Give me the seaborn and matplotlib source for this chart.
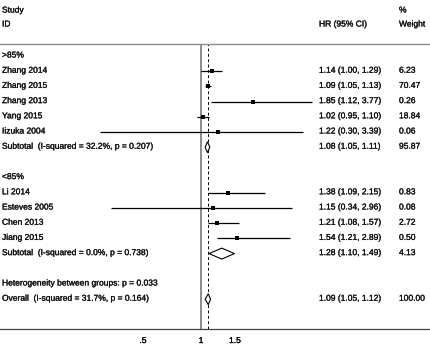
import numpy as np
import pandas as pd
import matplotlib
matplotlib.use("Agg")
import matplotlib.pyplot as plt
import matplotlib.transforms as mtransforms
import matplotlib.patheffects as pe
import seaborn as sns

# studies, hazard ratios, 95% CI and weights
g1_names = ["Zhang 2014", "Zhang 2015", "Zhang 2013", "Yang 2015", "Iizuka 2004"]
g1_hr = [1.14, 1.09, 1.85, 1.02, 1.22]
g1_lo = [1.00, 1.05, 1.12, 0.95, 0.30]
g1_hi = [1.29, 1.13, 3.77, 1.10, 3.39]
g1_w = ["6.23", "70.47", "0.26", "18.84", "0.06"]

g2_names = ["Li 2014", "Esteves 2005", "Chen 2013", "Jiang 2015"]
g2_hr = [1.38, 1.15, 1.21, 1.54]
g2_lo = [1.09, 0.34, 1.08, 1.21]
g2_hi = [2.15, 2.96, 1.57, 2.89]
g2_w = ["0.83", "0.08", "2.72", "0.50"]

sub_labels = ["Subtotal  (I-squared = 32.2%, p = 0.207)",
              "Subtotal  (I-squared = 0.0%, p = 0.738)",
              "Overall  (I-squared = 31.7%, p = 0.164)"]
sub_hr = [1.08, 1.28, 1.09]
sub_lo = [1.05, 1.10, 1.05]
sub_hi = [1.11, 1.49, 1.12]
sub_w = ["95.87", "4.13", "100.00"]

group_titles = [">85%", "<85%"]
het_text = "Heterogeneity between groups: p = 0.033"

tick_vals = [0.5, 1, 1.5, 2, 4]
tick_labels = [".5", "1", "1.5", "", ""]

# row layout
g1_rows = [1, 2, 3, 4, 5]
g2_rows = [9, 10, 11, 12]
sub_rows = [6, 13, 16]
title_rows = [0, 8]
het_row = 15

studies = pd.DataFrame({
    "name": g1_names + g2_names,
    "hr": g1_hr + g2_hr,
    "lo": g1_lo + g2_lo,
    "hi": g1_hi + g2_hi,
    "w": g1_w + g2_w,
    "row": g1_rows + g2_rows,
})

sns.set_style("white")
plt.rcParams["font.family"] = ["Liberation Sans", "DejaVu Sans"]

fig = plt.figure(figsize=(4.3, 3.47), dpi=100)
ax = fig.add_axes([0.0, 18 / 347, 1.0, (329 - 44) / 347])

ax.set_xscale("log")
ax.set_xlim(0.0906, 15.4)
ax.set_ylim(17.96, -0.79)

fs = 6.1
txt_col = "#111111"
thick = [pe.withStroke(linewidth=0.2, foreground=txt_col)]

# null line and overall estimate line
ax.axvline(1, color="#8c8c8c", lw=1.4, zorder=1)
ax.axvline(sub_hr[2], color="black", lw=0.7, ls=(0, (3, 2.5)), zorder=1)

# CIs
ax.hlines(studies["row"], studies["lo"], studies["hi"], color="black", lw=0.9, zorder=2)
sns.scatterplot(data=studies, x="hr", y="row", ax=ax, marker="s", s=6,
                color="black", linewidth=0, zorder=3, legend=False)

# diamonds
for r, m, lo, hi in zip(sub_rows, sub_hr, sub_lo, sub_hi):
    ax.fill([lo, m, hi, m], [r, r - 0.36, r, r + 0.36], facecolor="white",
            edgecolor="black", lw=0.8, zorder=3)

ax.set_xticks(tick_vals)
ax.set_xticklabels(tick_labels, fontsize=fs)
for t in ax.get_xticklabels():
    t.set_path_effects(thick)
ax.xaxis.set_minor_locator(matplotlib.ticker.NullLocator())
ax.tick_params(axis="x", direction="out", length=3.5, width=0.7, pad=3, colors="black")
ax.set_yticks([])
ax.set_xlabel("")
ax.set_ylabel("")

sns.despine(ax=ax, left=True, right=True, top=False, bottom=False)
ax.spines["top"].set_color("#8c8c8c")
ax.spines["top"].set_linewidth(1.0)
ax.spines["bottom"].set_color("#444444")
ax.spines["bottom"].set_linewidth(0.9)

tr = mtransforms.blended_transform_factory(ax.transAxes, ax.transData)
x_lab, x_hr, x_w = 2 / 430, 319 / 430, 399 / 430

def put(x, y, s):
    ax.text(x, y, s, transform=tr, fontsize=fs, color=txt_col, va="center",
            ha="left", clip_on=False, path_effects=thick)

# headers
put(x_lab, -2.96, "Study")
put(x_lab, -2.04, "ID")
put(x_hr, -2.04, "HR (95% CI)")
put(x_w, -2.96, "%")
put(x_w, -2.04, "Weight")

for r, t in zip(title_rows, group_titles):
    put(x_lab, r, t)

for _, row in studies.iterrows():
    put(x_lab, row["row"], row["name"])
    put(x_hr, row["row"], f"{row['hr']:.2f} ({row['lo']:.2f}, {row['hi']:.2f})")
    put(x_w, row["row"], row["w"])

for r, lab, m, lo, hi, w in zip(sub_rows, sub_labels, sub_hr, sub_lo, sub_hi, sub_w):
    put(x_lab, r, lab)
    put(x_hr, r, f"{m:.2f} ({lo:.2f}, {hi:.2f})")
    put(x_w, r, w)

put(x_lab, het_row, het_text)

fig.savefig("out.png", dpi=100)
